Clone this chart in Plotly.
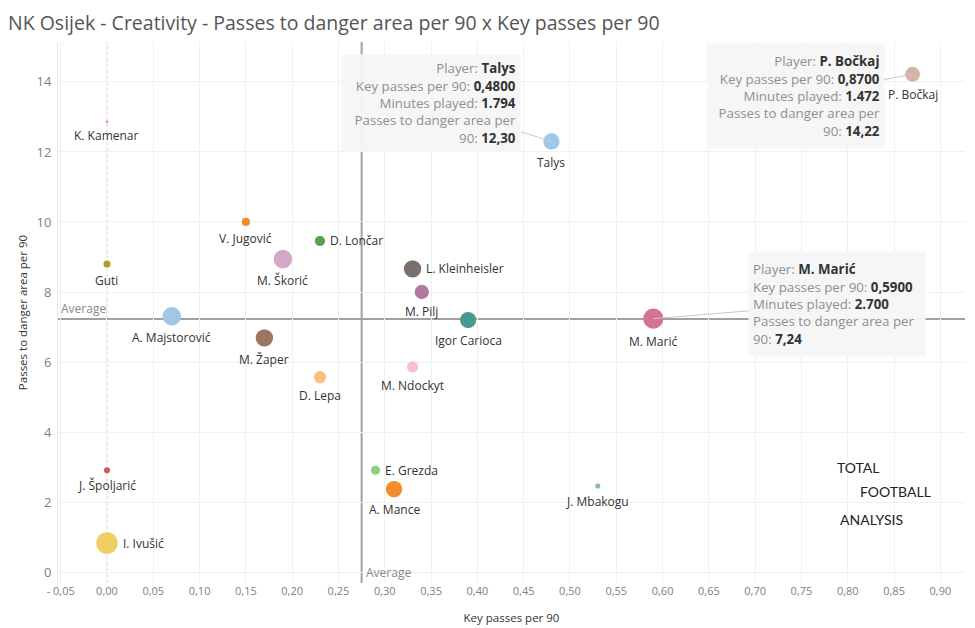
import numpy as np
import plotly.graph_objects as go

players = ["K. Kamenar", "Talys", "P. Bočkaj", "V. Jugović", "D. Lončar", "M. Škorić",
           "Guti", "L. Kleinheisler", "M. Pilj", "A. Majstorović", "M. Žaper",
           "Igor Carioca", "M. Marić", "M. Ndockyt", "D. Lepa", "E. Grezda",
           "A. Mance", "J. Mbakogu", "J. Špoljarić", "I. Ivušić"]
key_passes = [0.00, 0.48, 0.87, 0.15, 0.23, 0.19, 0.00, 0.33, 0.34, 0.07, 0.17,
              0.39, 0.59, 0.33, 0.23, 0.29, 0.31, 0.53, 0.00, 0.00]
danger_passes = [12.86, 12.30, 14.22, 10.00, 9.46, 8.94, 8.80, 8.66, 8.00, 7.31, 6.69,
                 7.20, 7.24, 5.86, 5.57, 2.91, 2.37, 2.46, 2.91, 0.83]
minutes = [60, 1794, 1472, 450, 700, 2270, 340, 2020, 1370, 2270, 2020,
           1750, 2700, 850, 1000, 570, 1800, 175, 250, 3100]
colors = ["#ff9d9a", "#9fc8e8", "#d7b5a6", "#f28e2b", "#59a14f", "#d4a6c8",
          "#b6992d", "#79706e", "#b07aa1", "#9fc8e8", "#9d7660",
          "#499894", "#d37295", "#fabfd2", "#ffbe7d", "#8cd17d",
          "#f28e2b", "#86bcb6", "#e15759", "#f1ce63"]
label_side = ["below", "below", "below", "below", "right",
              "below", "below", "right", "below", "below",
              "below", "below", "below", "below", "below",
              "right", "below", "below", "below", "right"]

x_ticks = [-0.05, 0.00, 0.05, 0.10, 0.15, 0.20, 0.25, 0.30, 0.35, 0.40, 0.45,
           0.50, 0.55, 0.60, 0.65, 0.70, 0.75, 0.80, 0.85, 0.90]
x_tick_labels = ["- 0,05", "0,00", "0,05", "0,10", "0,15", "0,20", "0,25", "0,30", "0,35",
                 "0,40", "0,45", "0,50", "0,55", "0,60", "0,65", "0,70", "0,75", "0,80",
                 "0,85", "0,90"]
y_ticks = [0, 2, 4, 6, 8, 10, 12, 14]

tooltip_players = ["Talys", "P. Bočkaj", "M. Marić"]
logo_words = ["TOTAL", "FOOTBALL", "ANALYSIS"]

FONT = "'Open Sans', Lato, sans-serif"
LOGO_FONT = "Lato, sans-serif"

avg_x = float(np.mean(key_passes))
avg_y = float(np.mean(danger_passes))

# bubble diameter (px) grows with sqrt of minutes played (area ~ minutes)
diam = np.maximum(np.sqrt(0.15 * np.array(minutes, dtype=float)), 3.0)

fig = go.Figure()
fig.add_trace(go.Scatter(
    x=key_passes, y=danger_passes, mode="markers",
    marker=dict(size=diam, sizemode="diameter", color=colors, opacity=1,
                line=dict(width=0)),
    hoverinfo="skip", showlegend=False, cliponaxis=False,
))

shapes = [
    dict(type="line", xref="x", yref="paper", x0=0, x1=0, y0=0, y1=1,
         line=dict(color="#c8c8c8", width=1, dash="dot"), layer="below"),
    dict(type="line", xref="paper", yref="y", x0=0, x1=1, y0=avg_y, y1=avg_y,
         line=dict(color="#a0a0a0", width=2), layer="below"),
    dict(type="line", xref="x", yref="paper", x0=avg_x, x1=avg_x, y0=0, y1=1,
         line=dict(color="#a0a0a0", width=2), layer="below"),
]


def fmt_dec(v, n):
    return f"{v:.{n}f}".replace(".", ",")


def fmt_int(v):
    return f"{v:,}".replace(",", ".")


def tip_text(i):
    k = "<span style='color:#8f8f8f'>"
    return (f"{k}Player: </span><b>{players[i]}</b><br>"
            f"{k}Key passes per 90: </span><b>{fmt_dec(key_passes[i], 4)}</b><br>"
            f"{k}Minutes played: </span><b>{fmt_int(minutes[i])}</b><br>"
            f"{k}Passes to danger area per</span><br>"
            f"{k}90: </span><b>{fmt_dec(danger_passes[i], 2)}</b>")


annotations = []
# point labels
for i, name in enumerate(players):
    r = diam[i] / 2
    if label_side[i] == "right":
        annotations.append(dict(
            x=key_passes[i], y=danger_passes[i], xref="x", yref="y", text=name,
            showarrow=False, xanchor="left", yanchor="middle", xshift=r + 3,
            font=dict(family=FONT, size=12, color="#333333")))
    else:
        annotations.append(dict(
            x=key_passes[i], y=danger_passes[i], xref="x", yref="y", text=name,
            showarrow=False, xanchor="center", yanchor="top", yshift=-(r + 2),
            font=dict(family=FONT, size=12, color="#333333")))

tip_offsets = {"Talys": (-120, -38, "right", 170, 88),
               "P. Bočkaj": (-117, 22, "right", 168, 96),
               "M. Marić": (184, -15, "left", 168, 96)}

for name in tooltip_players:
    i = players.index(name)
    ax, ay, al, w, h = tip_offsets[name]
    annotations.append(dict(
        x=key_passes[i], y=danger_passes[i], xref="x", yref="y",
        text=tip_text(i), showarrow=True, arrowhead=0, arrowwidth=1,
        arrowcolor="#c8c8c8", ax=ax, ay=ay, align=al, width=w, height=h,
        bgcolor="rgba(246,246,246,0.97)", borderpad=4,
        font=dict(family=FONT, size=13.3, color="#333333"),
    ))

annotations += [
    dict(x=0, y=avg_y, xref="paper", yref="y", text="Average", showarrow=False,
         xanchor="left", yanchor="bottom", xshift=1,
         font=dict(family=FONT, size=12, color="#888888")),
    dict(x=avg_x, y=0, xref="x", yref="paper", text="Average", showarrow=False,
         xanchor="left", yanchor="bottom", xshift=2,
         font=dict(family=FONT, size=12, color="#888888")),
]

logo_pos = [(0.786, 3.0), (0.811, 2.29), (0.789, 1.49)]
for txt, (lx, ly) in zip(logo_words, logo_pos):
    annotations.append(dict(
        x=lx, y=ly, xref="x", yref="y", text=txt, showarrow=False, xanchor="left",
        font=dict(family=LOGO_FONT, size=14, color="#222222")))

# page body has an 8px margin: figure sized/offset so the plot sits where the reference has it
fig.update_layout(
    width=967, height=620,
    margin=dict(l=50, r=10, t=34, b=45),
    paper_bgcolor="white", plot_bgcolor="white",
    title=dict(text="NK Osijek - Creativity - Passes to danger area per 90 x Key passes per 90",
               x=0, xref="container", xanchor="left", y=1, yref="container",
               yanchor="top", pad=dict(t=8, l=0),
               font=dict(family=FONT, size=19.5, color="#555555")),
    xaxis=dict(range=[-0.0529, 0.9266], tickvals=x_ticks, ticktext=x_tick_labels,
               showgrid=True, gridcolor="#f0f0f0", zeroline=False, automargin=False,
               showline=False, ticks="",
               tickfont=dict(family=FONT, size=11, color="#808080"),
               title=dict(text="Key passes per 90", standoff=16,
                          font=dict(family=FONT, size=11.5, color="#333333"))),
    yaxis=dict(range=[-0.31, 15.14], tickvals=y_ticks,
               showgrid=True, gridcolor="#f0f0f0", zeroline=False, automargin=False,
               showline=True, linecolor="#e8e8e8", ticks="", ticklabelstandoff=3,
               tickfont=dict(family=FONT, size=13, color="#808080"),
               title=dict(text="Passes to danger area per 90", standoff=6,
                          font=dict(family=FONT, size=11.5, color="#333333"))),
    shapes=shapes, annotations=annotations,
)

fig.write_html("out.html")
